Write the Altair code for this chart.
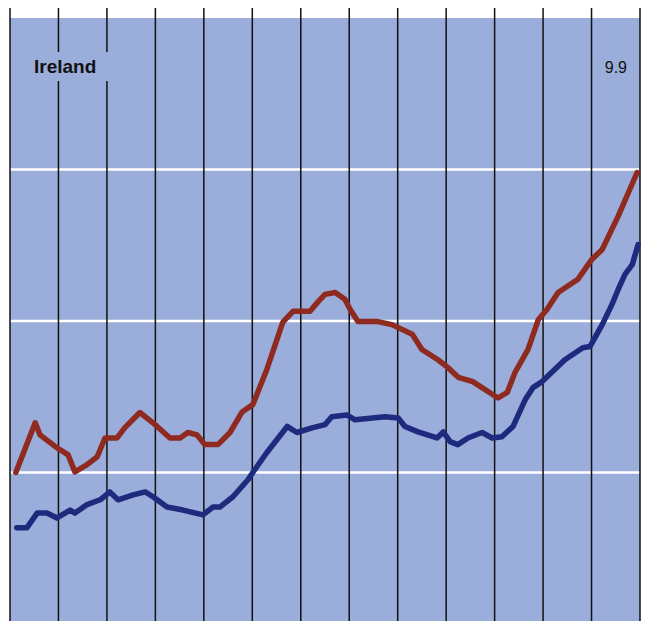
import altair as alt
import pandas as pd

# Time in years from start of the chart (13 yearly divisions)
red_t = [0.12, 0.52, 0.62, 0.93, 1.20, 1.34, 1.59, 1.80, 1.96, 2.21, 2.37, 2.68, 2.95, 3.30, 3.51,
         3.67, 3.86, 4.02, 4.29, 4.54, 4.79, 5.01, 5.30, 5.63, 5.84, 6.19, 6.36, 6.50, 6.71, 6.91,
         7.02, 7.18, 7.59, 7.88, 8.30, 8.50, 8.83, 9.04, 9.25, 9.55, 10.07, 10.26, 10.42, 10.69,
         10.90, 11.08, 11.31, 11.72, 12.01, 12.22, 12.55, 12.94]
red_v = [2.50, 3.32, 3.12, 2.93, 2.79, 2.51, 2.63, 2.76, 3.07, 3.07, 3.24, 3.49, 3.32, 3.07, 3.07,
         3.16, 3.12, 2.96, 2.96, 3.16, 3.50, 3.62, 4.20, 4.98, 5.16, 5.16, 5.32, 5.44, 5.47, 5.36,
         5.19, 4.99, 4.99, 4.94, 4.78, 4.53, 4.36, 4.23, 4.07, 4.00, 3.73, 3.82, 4.15, 4.53,
         5.02, 5.19, 5.47, 5.69, 6.02, 6.18, 6.73, 7.45]

blue_t = [0.14, 0.35, 0.56, 0.76, 0.97, 1.24, 1.34, 1.59, 1.86, 2.06, 2.23, 2.54, 2.79, 2.95, 3.24,
          3.57, 3.98, 4.19, 4.33, 4.60, 4.91, 5.01, 5.30, 5.72, 5.92, 6.25, 6.50, 6.64, 6.95, 7.12,
          7.74, 8.01, 8.15, 8.42, 8.81, 8.94, 9.08, 9.24, 9.45, 9.74, 9.95, 10.15, 10.38, 10.63,
          10.79, 10.98, 11.45, 11.82, 11.97, 12.22, 12.42, 12.55, 12.69, 12.84, 12.96]
blue_v = [1.59, 1.59, 1.83, 1.83, 1.75, 1.88, 1.83, 1.97, 2.05, 2.18, 2.05, 2.13, 2.18, 2.10, 1.93,
          1.88, 1.80, 1.93, 1.93, 2.10, 2.38, 2.50, 2.83, 3.26, 3.16, 3.24, 3.29, 3.42, 3.45, 3.37,
          3.42, 3.40, 3.26, 3.17, 3.07, 3.17, 3.01, 2.96, 3.07, 3.16, 3.07, 3.09, 3.26, 3.70,
          3.90, 4.00, 4.36, 4.56, 4.58, 4.94, 5.27, 5.52, 5.77, 5.93, 6.26]

grid_y = [2.5, 5.0, 7.5]
year_ticks = list(range(0, 14))

W, H = 630, 606
PT, PB = 10, -3
BG = "#9badda"
RED = "#8e2a20"
BLUE = "#1e2a7e"

xs = alt.Scale(domain=[0, 13], nice=False, zero=False)
ys = alt.Scale(domain=[0, 10], nice=False, zero=False)

df = pd.concat([
    pd.DataFrame({"t": red_t, "v": red_v, "series": "red"}),
    pd.DataFrame({"t": blue_t, "v": blue_v, "series": "blue"}),
])

hgrid = alt.Chart(pd.DataFrame({"v": grid_y})).mark_rule(color="white", strokeWidth=2.5).encode(
    y=alt.Y("v:Q", scale=ys, axis=None)
)

vgrid = alt.Chart(pd.DataFrame({"t": year_ticks})).mark_rule(color="#111111", strokeWidth=1.5).encode(
    x=alt.X("t:Q", scale=xs, axis=None),
    y=alt.value(-PT),
    y2=alt.value(H),
)

label_bg = alt.Chart(pd.DataFrame({"a": [0]})).mark_rect(color=BG).encode(
    x=alt.value(18), x2=alt.value(102), y=alt.value(34), y2=alt.value(63)
)

lines = alt.Chart(df).mark_line(strokeWidth=5.5, strokeJoin="round", strokeCap="round").encode(
    x=alt.X("t:Q", scale=xs, axis=None),
    y=alt.Y("v:Q", scale=ys, axis=None),
    color=alt.Color("series:N", scale=alt.Scale(domain=["red", "blue"], range=[RED, BLUE]), legend=None),
    detail="series:N",
)

title_txt = alt.Chart(pd.DataFrame({"s": ["Ireland"]})).mark_text(
    align="left", baseline="alphabetic", font="Liberation Sans", fontSize=19, fontWeight="bold", color="#111111"
).encode(x=alt.value(24), y=alt.value(55), text="s:N")

max_txt = alt.Chart(pd.DataFrame({"s": ["9.9"]})).mark_text(
    align="right", baseline="alphabetic", font="Liberation Sans", fontSize=16, color="#111111"
).encode(x=alt.value(617), y=alt.value(55), text="s:N")

chart = alt.layer(hgrid, vgrid, label_bg, lines, title_txt, max_txt).properties(
    width=W, height=H, autosize=alt.AutoSizeParams(type="none"),
    padding={"left": 2, "top": PT, "right": 1, "bottom": PB},
    background="white",
).configure_view(fill=BG, stroke=None)

chart.save("out.html", embed_options={"renderer": "svg", "actions": False})
